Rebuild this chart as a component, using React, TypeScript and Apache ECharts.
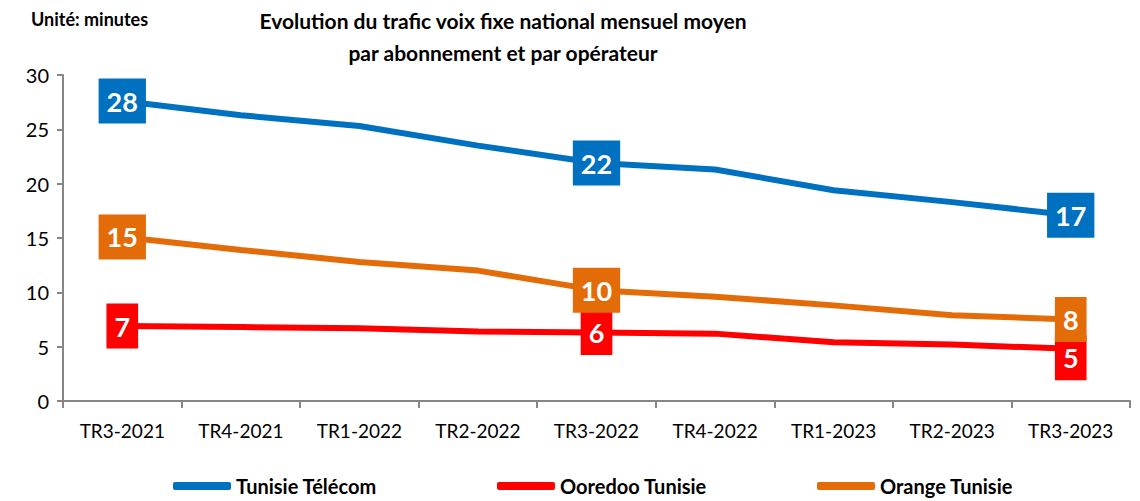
import React, { useEffect, useRef } from "react";
import * as echarts from "echarts";

const categories = ["TR3-2021", "TR4-2021", "TR1-2022", "TR2-2022", "TR3-2022", "TR4-2022", "TR1-2023", "TR2-2023", "TR3-2023"];
const tunisieTelecom = [27.6, 26.3, 25.3, 23.5, 21.9, 21.3, 19.4, 18.3, 17.1];
const ooredooTunisie = [6.9, 6.8, 6.7, 6.4, 6.3, 6.2, 5.4, 5.2, 4.8];
const orangeTunisie = [15.1, 13.9, 12.8, 12.0, 10.2, 9.6, 8.8, 7.9, 7.5];
const labeledIndices = [0, 4, 8];
const titleLines = ["Evolution du trafic voix fixe national mensuel moyen", "par abonnement et par opérateur"];
const unitText = "Unité: minutes";

const FONT = "Lato";

function makeSeries(name: string, values: number[], color: string, offsets: Record<number, number[]> = {}) {
  return {
    name,
    type: "line",
    symbol: "rect",
    symbolSize: 1,
    lineStyle: { color, width: 6 },
    itemStyle: { color },
    data: values.map((v, i) => ({
      value: v,
      label: {
        show: labeledIndices.includes(i),
        offset: offsets[i] || [0, 0],
      },
    })),
    label: {
      position: "inside",
      formatter: (p: any) => String(Math.round(p.value)),
      backgroundColor: color,
      color: "#fff",
      fontFamily: FONT,
      fontWeight: "bold",
      fontSize: 27,
      padding: [10, 8, 8, 8],
    },
  };
}

export default function App() {
  const ref = useRef<HTMLDivElement>(null);
  useEffect(() => {
    document.body.style.margin = "0";
    const chart = echarts.init(ref.current!, null, { renderer: "svg" });
    const legendCommon = {
      bottom: 0,
      itemWidth: 58,
      itemHeight: 8,
      itemGap: 3,
      textStyle: { fontFamily: FONT, fontWeight: "bold", fontSize: 20, color: "#000" },
    };
    chart.setOption({
      animation: false,
      textStyle: { fontFamily: FONT },
      title: [
        {
          text: titleLines.join("\n"),
          left: 498,
          textAlign: "center",
          top: -1,
          textStyle: { fontFamily: FONT, fontWeight: "bold", fontSize: 21, lineHeight: 32, color: "#000" },
        },
        {
          text: unitText,
          left: 26,
          top: 5,
          textStyle: { fontFamily: FONT, fontWeight: "bold", fontSize: 18, color: "#000" },
        },
      ],
      legend: [
        { ...legendCommon, left: 168, data: [{ name: "Tunisie Télécom", icon: "roundRect" }] },
        { ...legendCommon, left: 492, data: [{ name: "Ooredoo Tunisie", icon: "roundRect" }] },
        { ...legendCommon, left: 812, data: [{ name: "Orange Tunisie", icon: "roundRect" }] },
      ],
      grid: { left: 63, right: 10, top: 75, bottom: 100, containLabel: false },
      xAxis: {
        type: "category",
        data: categories,
        boundaryGap: true,
        axisLine: { lineStyle: { color: "#868686", width: 2 } },
        axisTick: { show: true, alignWithLabel: false, length: 7, lineStyle: { color: "#868686", width: 2 } },
        axisLabel: { color: "#000", fontSize: 19, margin: 20, fontFamily: FONT },
      },
      yAxis: {
        type: "value",
        min: 0,
        max: 30,
        interval: 5,
        axisLine: { show: true, lineStyle: { color: "#868686", width: 2 } },
        axisTick: { show: true, length: 6, lineStyle: { color: "#868686", width: 2 } },
        splitLine: { show: false },
        axisLabel: { color: "#000", fontSize: 20, margin: 14, fontFamily: FONT },
      },
      series: [
        makeSeries("Tunisie Télécom", tunisieTelecom, "#0070C0"),
        makeSeries("Ooredoo Tunisie", ooredooTunisie, "#FF0000", { 8: [0, 9] }),
        makeSeries("Orange Tunisie", orangeTunisie, "#E36C09"),
      ],
    });
    return () => chart.dispose();
  }, []);
  return <div ref={ref} style={{ width: 1140, height: 501 }} />;
}
